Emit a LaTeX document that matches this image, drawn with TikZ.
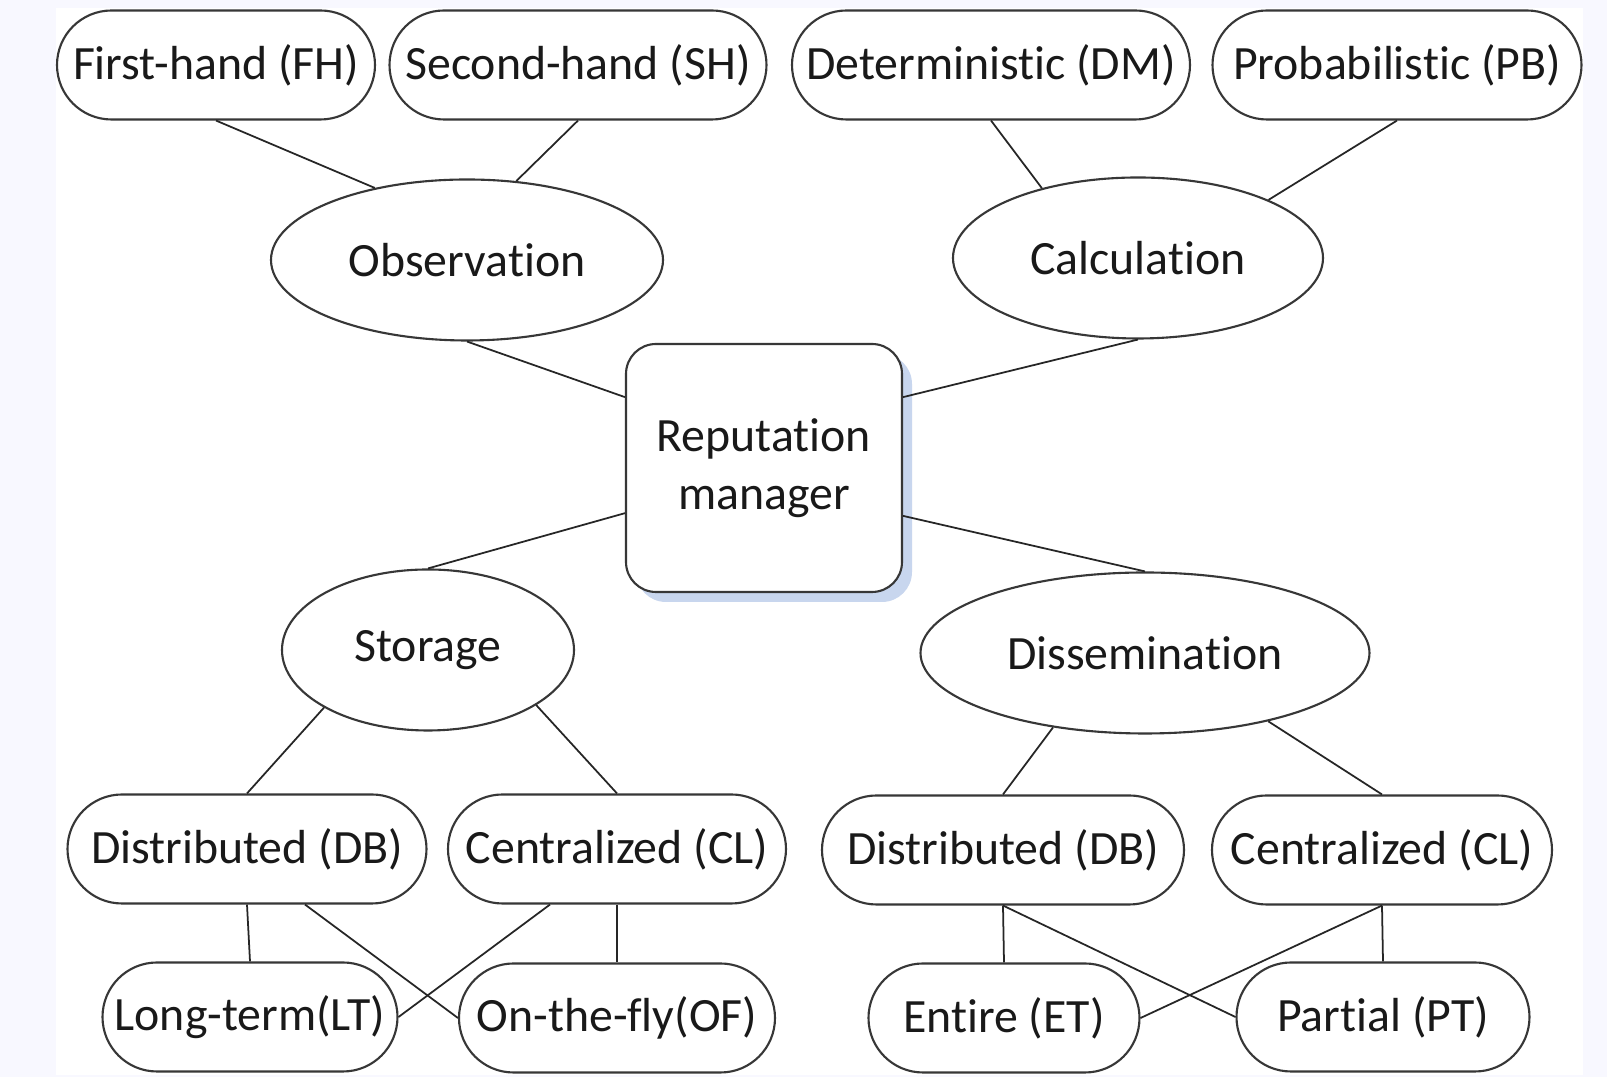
\documentclass[tikz,border=0pt]{standalone}
\usepackage{fontspec}
\setmainfont{Carlito}[RawFeature={-liga;-clig;-calt;-dlig;-rlig}]
\usepackage{tikz}
\usetikzlibrary{shapes.geometric,shadows}

\definecolor{pagebg}{RGB}{248,248,255}
\definecolor{edge}{RGB}{55,55,55}
\definecolor{shade}{RGB}{200,214,238}

\begin{document}
\begin{tikzpicture} [
	pill/.style={draw=edge, line width=0.6pt, rounded corners=5.45mm, minimum height=10.9mm, inner sep=0pt, fill=white},
	oval/.style={ellipse, draw=edge, line width=0.6pt, minimum height=16.1mm, inner sep=0pt, fill=white},
	hub/.style={draw=edge, line width=0.6pt, rounded corners=3mm, minimum width=27.6mm, minimum height=24.8mm, align=center, fill=white,
		drop shadow={shadow xshift=1mm, shadow yshift=-1mm, fill=shade, opacity=1}},
	link/.style={draw=black!85, line width=0.5pt},
	font=\fontsize{13.6}{16.5}\selectfont, text=black!90
]
	\useasboundingbox (0,0) rectangle (16.07,10.77);
	\fill[pagebg] (0,0) rectangle (16.07,10.77);
	\fill[white] (0.56,0.02) rectangle (15.83,10.69);

	\node[pill, minimum width=31.8mm] (fh) at (2.16,10.12) {First-hand (FH)};
	\node[pill, minimum width=37.7mm] (sh) at (5.78,10.12) {Second-hand (SH)};
	\node[pill, minimum width=39.8mm] (dm) at (9.91,10.12) {Deterministic (DM)};
	\node[pill, minimum width=36.9mm] (pb) at (13.97,10.12) {Probabilistic (PB)};

	\node[oval, minimum width=39.2mm] (obs) at (4.67,8.17) {Observation};
	\node[oval, minimum width=37mm] (calc) at (11.38,8.19) {Calculation};
	\node[hub] (rm) at (7.64,6.09) {Reputation\\manager};
	\node[oval, minimum width=29.2mm] (sto) at (4.28,4.27) {Storage};
	\node[oval, minimum width=44.9mm] (dis) at (11.45,4.24) {Dissemination};

	\node[pill, minimum width=35.9mm] (db1) at (2.47,2.28) {Distributed (DB)};
	\node[pill, minimum width=33.8mm] (cl1) at (6.17,2.28) {Centralized (CL)};
	\node[pill, minimum width=36.2mm] (db2) at (10.03,2.27) {Distributed (DB)};
	\node[pill, minimum width=34mm] (cl2) at (13.82,2.27) {Centralized (CL)};

	\node[pill, minimum width=29.5mm] (lt) at (2.50,0.60) {Long-term(LT)};
	\node[pill, minimum width=31.6mm] (of) at (6.17,0.59) {On-the-fly(OF)};
	\node[pill, minimum width=27.1mm] (et) at (10.04,0.59) {Entire (ET)};
	\node[pill, minimum width=29.3mm] (pt) at (13.83,0.60) {Partial (PT)};

	\draw[link] (fh.south) -- (obs.142);
	\draw[link] (sh.south) -- (obs.58);
	\draw[link] (dm.south) -- (calc.144);
	\draw[link] (pb.south) -- (calc.24);
	\draw[link] (obs.south) -- (rm.153);
	\draw[link] (calc.south) -- (rm.27);
	\draw[link] (rm.198) -- (sto.north);
	\draw[link] (rm.-19) -- (dis.north);
	\draw[link] (sto.209) -- (db1.north);
	\draw[link] (sto.333) -- (cl1.north);
	\draw[link] (dis.219) -- (db2.north);
	\draw[link] (dis.331) -- (cl2.north);
	\draw[link] (db1.south) -- (lt.north);
	\draw[link] ([xshift=5.8mm]db1.south) -- (of.west);
	\draw[link] ([xshift=-6.7mm]cl1.south) -- (lt.east);
	\draw[link] (cl1.south) -- (of.north);
	\draw[link] (db2.south) -- (et.north);
	\draw[link] (db2.south) -- (pt.west);
	\draw[link] (cl2.south) -- (et.east);
	\draw[link] (cl2.south) -- (pt.north);
\end{tikzpicture}
\end{document}
